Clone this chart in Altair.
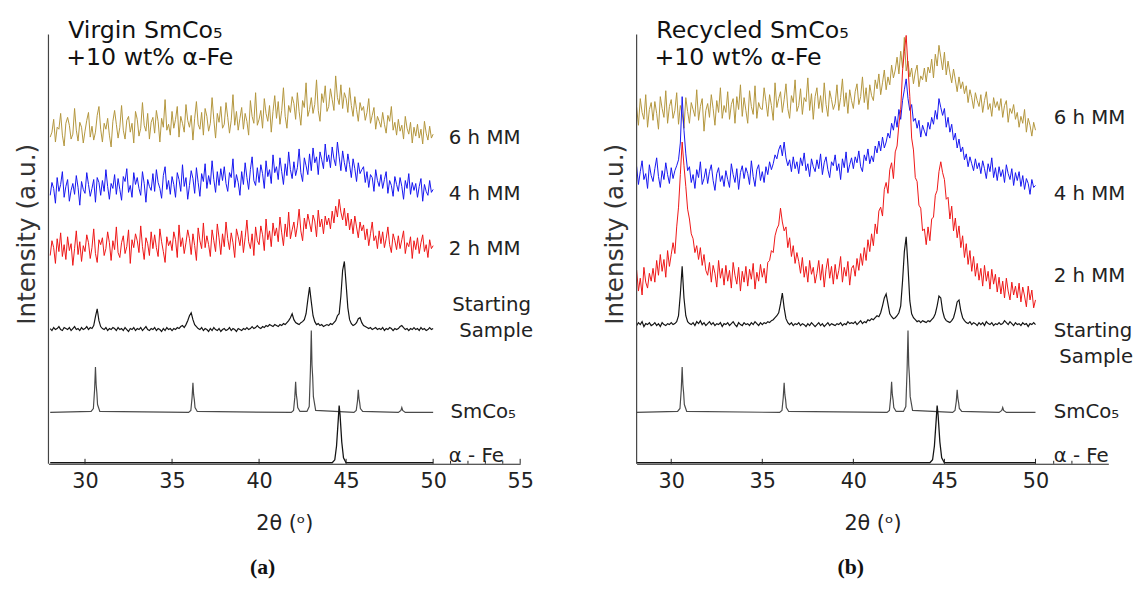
import altair as alt
import pandas as pd
import numpy as np

# ---------------- sampling grid of the noisy patterns (2theta, degrees) -------------
X_START, X_STEP = 28.0, 0.1

# ---------------- panel (a): Virgin SmCo5 + 10 wt% a-Fe ----------------------------
a_6h = [
    331, 336, 349, 326, 341, 339, 355, 333, 322, 345,
    351, 343, 329, 334, 360, 338, 327, 346, 341, 325,
    337, 348, 356, 331, 342, 328, 336, 353, 362, 339,
    326, 345, 339, 350, 333, 321, 347, 358, 344, 330,
    341, 363, 338, 329, 348, 352, 336, 345, 325, 357,
    349, 332, 340, 366, 343, 337, 355, 329, 346, 351,
    335, 358, 347, 326, 350, 341, 369, 338, 344, 333,
    357, 340, 349, 362, 331, 352, 345, 336, 364, 348,
    341, 353, 328, 350, 367, 344, 339, 356, 333, 360,
    352, 337, 345, 371, 349, 330, 355, 346, 362, 340,
    344, 366, 351, 335, 348, 374, 343, 357, 338, 350,
    361, 339, 355, 347, 333, 368, 352, 345, 376, 343,
    349, 358, 340, 370, 355, 347, 363, 336, 357, 373,
    350, 367, 344, 358, 381, 352, 340, 363, 356, 372,
    365, 349, 376, 357, 343, 368, 361, 386, 352, 359,
    371, 355, 364, 389, 358, 347, 375, 366, 383, 357,
    362, 380, 369, 358, 393, 371, 364, 384, 360, 376,
    370, 356, 381, 363, 352, 372, 359, 347, 366, 358,
    362, 348, 356, 370, 345, 353, 361, 339, 352, 347,
    341, 356, 344, 335, 353, 347, 362, 338, 346, 333,
    349, 337, 343, 329, 352, 340, 334, 346, 325, 341,
    332, 344, 330, 339, 324, 347, 335, 328, 342, 330,
    334,
]
a_4h = [
    272, 285, 279, 264, 290, 276, 283, 296, 270, 281,
    288, 266, 277, 284, 273, 292, 280, 262, 286, 278,
    274, 295, 283, 271, 279, 288, 265, 290, 285, 272,
    287, 276, 298, 281, 268, 284, 279, 293, 273, 289,
    278, 267, 291, 286, 299, 275, 282, 270, 295, 283,
    290, 279, 272, 296, 284, 265, 288, 281, 277, 294,
    276, 298, 285, 279, 269, 292, 301, 278, 287, 273,
    291, 283, 270, 295, 288, 276, 303, 281, 290, 268,
    282, 297, 289, 274, 300, 285, 271, 294, 286, 304,
    279, 292, 283, 307, 288, 275, 296, 282, 299, 287,
    301, 284, 276, 295, 290, 309, 280, 293, 285, 272,
    296, 283, 305, 290, 278, 298, 311, 287, 282, 300,
    285, 303, 294, 279, 307, 291, 298, 284, 313, 295,
    301, 288, 310, 296, 283, 304, 292, 316, 298, 289,
    306, 292, 300, 319, 295, 286, 310, 302, 293, 314,
    297, 320, 305, 311, 293, 316, 308, 299, 324, 306,
    313, 300, 321, 309, 302, 326, 311, 297, 317, 305,
    296, 314, 303, 290, 309, 299, 286, 305, 294, 298,
    301, 285, 296, 280, 293, 290, 276, 298, 287, 281,
    293, 279, 288, 296, 274, 287, 282, 271, 291, 283,
    276, 290, 281, 268, 287, 279, 294, 273, 285, 277,
    284, 270, 281, 289, 266, 283, 276, 272, 287, 275,
    278,
]
a_2h = [
    211, 226, 219, 203, 228, 215, 234, 210, 222, 207,
    230, 216, 223, 201, 218, 236, 212, 225, 205, 221,
    215, 232, 224, 208, 219, 238, 213, 204, 227, 222,
    229, 211, 218, 235, 224, 206, 226, 217, 240, 214,
    209, 224, 231, 213, 220, 237, 203, 227, 219, 233,
    226, 214, 241, 220, 207, 229, 223, 211, 235, 218,
    232, 219, 210, 238, 225, 215, 204, 230, 221, 226,
    216, 235, 227, 209, 242, 220, 229, 213, 224, 237,
    228, 212, 233, 221, 206, 239, 226, 218, 244, 219,
    231, 222, 210, 237, 226, 215, 243, 229, 212, 233,
    220, 245, 228, 217, 234, 224, 209, 238, 230, 221,
    236, 214, 229, 247, 225, 218, 233, 211, 240, 226,
    222, 241, 232, 216, 248, 227, 236, 220, 244, 231,
    239, 225, 250, 234, 221, 243, 230, 255, 228, 237,
    245, 230, 241, 258, 236, 226, 249, 238, 253, 244,
    235, 252, 246, 230, 257, 240, 248, 233, 251, 242,
    249, 238, 256, 244, 261, 250, 268, 255, 247, 259,
    241, 254, 237, 248, 233, 251, 240, 229, 245, 236,
    242, 227, 238, 221, 233, 245, 226, 231, 218, 236,
    223, 235, 219, 228, 240, 222, 214, 233, 226, 217,
    231, 218, 227, 236, 213, 224, 220, 230, 208, 226,
    217, 229, 213, 224, 232, 215, 222, 209, 227, 218,
    221,
]
a_start = [
    137, 135, 138, 136, 137, 139, 136, 135, 138, 137,
    136, 138, 135, 137, 139, 136, 137, 135, 138, 136,
    137, 139, 136, 138, 137, 140, 149, 157, 145, 139,
    137, 136, 138, 135, 137, 136, 138, 137, 135, 138,
    136, 137, 135, 138, 136, 134, 137, 136, 138, 135,
    137, 136, 138, 135, 137, 139, 136, 135, 137, 136,
    138, 135, 137, 136, 134, 137, 135, 138, 136, 137,
    135, 137, 136, 138, 137, 139, 140, 138, 141, 145,
    150, 153, 146, 141, 139, 137, 136, 138, 135, 137,
    136, 134, 137, 135, 138, 136, 135, 137, 134, 136,
    137, 135, 136, 138, 135, 137, 136, 134, 137, 136,
    135, 137, 136, 138, 136, 137, 139, 137, 138, 140,
    138, 137, 139, 138, 140, 139, 141, 140, 139, 141,
    140, 139, 141, 140, 142, 141, 143, 145, 148, 152,
    146, 143, 142, 141, 143, 144, 146, 152, 166, 179,
    164, 150, 144, 141, 142, 140, 141, 139, 140, 141,
    140, 142, 141, 143, 145, 150, 152, 170, 196, 205,
    182, 158, 146, 142, 140, 141, 143, 147, 148, 143,
    140, 139, 138, 137, 138, 136, 137, 138, 136, 137,
    136, 138, 135, 137, 136, 138, 137, 135, 137, 136,
    137, 139, 140, 138, 136, 137, 135, 137, 136, 138,
    136, 137, 135, 138, 136, 137, 135, 136, 138, 136,
    137,
]

# ---------------- panel (b): Recycled SmCo5 + 10 wt% a-Fe ---------------------------
b_6h = [
    352, 361, 343, 370, 356, 349, 374, 341, 359, 366,
    348, 367, 355, 339, 372, 360, 351, 378, 345, 362,
    369, 350, 358, 376, 344, 363, 355, 340, 371, 357,
    345, 366, 359, 352, 379, 348, 362, 370, 337, 358,
    365, 351, 374, 360, 343, 368, 356, 381, 350, 363,
    356, 377, 349, 364, 370, 345, 372, 359, 384, 352,
    371, 358, 345, 378, 362, 354, 383, 350, 366, 360,
    359, 381, 367, 352, 374, 363, 348, 386, 361, 370,
    377, 356, 369, 385, 360, 350, 373, 366, 389, 357,
    363, 380, 354, 371, 367, 391, 358, 375, 349, 372,
    381, 360, 373, 356, 386, 364, 352, 378, 369, 359,
    365, 384, 358, 371, 390, 362, 376, 355, 379, 368,
    360, 377, 385, 364, 372, 392, 366, 381, 359, 384,
    373, 368, 389, 380, 395, 374, 386, 399, 379, 392,
    384, 404, 391, 399, 412, 395, 418, 401, 432, 398,
    408, 392, 401, 385, 397, 404, 382, 393, 389, 401,
    387, 402, 396, 410, 391, 415, 403, 424, 412, 399,
    417, 394, 408, 396, 386, 400, 389, 377, 392, 380,
    387, 375, 383, 366, 379, 371, 360, 376, 368, 362,
    374, 356, 368, 377, 359, 365, 352, 371, 361, 367,
    358, 370, 351, 363, 368, 346, 360, 355, 364, 349,
    356, 341, 352, 345, 359, 336, 350, 343, 332, 346,
    338,
]
b_4h = [
    290, 301, 283, 296, 307, 288, 294, 279, 303, 292,
    286, 299, 310, 291, 280, 297, 288, 305, 293, 284,
    300, 289, 297, 302, 308, 325, 372, 338, 314, 297,
    301, 285, 293, 279, 298, 290, 306, 283, 289, 299,
    284, 296, 303, 287, 277, 294, 300, 286, 292, 281,
    297, 288, 280, 304, 293, 285, 299, 278, 295, 302,
    289, 300, 294, 283, 307, 291, 281, 298, 303, 287,
    296, 285, 301, 293, 306, 298, 304, 313, 309, 318,
    323, 312, 326, 310, 302, 308, 296, 311, 299, 306,
    294, 310, 302, 315, 297, 304, 291, 309, 301, 296,
    308, 299, 314, 293, 305, 311, 298, 290, 306, 302,
    313, 297, 304, 288, 309, 300, 316, 295, 303, 310,
    299, 311, 305, 317, 301, 296, 313, 307, 319, 304,
    312, 306, 322, 315, 327, 317, 331, 320, 326, 335,
    330, 345, 338, 352, 341, 359, 349, 368, 379, 390,
    370, 358, 364, 347, 350, 340, 348, 331, 343, 337,
    332, 346, 339, 351, 344, 358, 349, 370, 361, 353,
    360, 341, 351, 336, 344, 328, 335, 320, 329, 316,
    321, 308, 314, 301, 311, 304, 297, 309, 299, 305,
    294, 307, 299, 289, 304, 296, 310, 290, 300, 287,
    301, 291, 298, 285, 303, 294, 288, 299, 282, 295,
    287, 296, 281, 292, 278, 289, 284, 273, 288, 280,
    282,
]
b_2h = [
    182, 196, 175, 188, 171, 199, 184, 178, 193, 185,
    198, 184, 206, 191, 212, 195, 207, 189, 216, 200,
    212, 224, 213, 240, 260, 293, 326, 302, 281, 258,
    248, 233, 228, 214, 221, 207, 219, 201, 212, 196,
    191, 204, 184, 201, 193, 179, 206, 188, 198, 181,
    201, 185, 196, 178, 204, 191, 182, 199, 175, 195,
    184, 200, 180, 197, 187, 203, 177, 194, 185, 202,
    189, 198, 183, 204, 206, 216, 214, 231, 238, 242,
    259, 245, 236, 240, 219, 229, 210, 221, 203, 214,
    205, 193, 209, 189, 200, 184, 206, 192, 199, 183,
    193, 206, 186, 202, 179, 197, 208, 188, 200, 182,
    202, 187, 196, 210, 184, 199, 190, 205, 181, 198,
    201, 190, 208, 196, 213, 201, 219, 206, 227, 215,
    233, 221, 243, 233, 256, 260, 251, 278, 285, 274,
    298, 305, 289, 316, 322, 344, 359, 398, 418, 434,
    402, 372, 330, 318, 290, 286, 262, 259, 236, 238,
    222, 240, 226, 248, 250, 272, 277, 296, 306, 295,
    288, 268, 270, 248, 261, 236, 249, 229, 241, 219,
    231, 209, 223, 202, 216, 195, 210, 190, 203, 186,
    198, 180, 201, 185, 195, 177, 197, 182, 192, 174,
    189, 172, 185, 168, 188, 175, 166, 184, 171, 180,
    168, 183, 164, 179, 170, 159, 180, 166, 176, 158,
    166,
]
b_start = [
    142, 140, 143, 141, 144, 139, 142, 141, 143, 140,
    141, 143, 140, 142, 139, 143, 141, 140, 142, 141,
    143, 141, 142, 144, 150, 172, 200, 168, 150, 144,
    142, 141, 143, 140, 144, 142, 145, 141, 143, 140,
    142, 144, 141, 143, 140, 142, 141, 143, 139, 142,
    141, 143, 140, 142, 144, 141, 139, 143, 141, 140,
    143, 141, 142, 140, 143, 141, 144, 142, 140, 143,
    141, 143, 142, 144, 143, 145, 146, 148, 150, 153,
    162, 173, 158, 147, 143, 141, 143, 140, 142, 141,
    143, 140, 142, 141, 139, 142, 140, 143, 141, 139,
    141, 143, 140, 142, 139, 141, 143, 140, 142, 141,
    140, 142, 141, 143, 140, 142, 141, 144, 142, 143,
    142, 144, 141, 143, 145, 142, 144, 143, 146, 145,
    147, 146, 148, 150, 149, 153, 160, 168, 172, 162,
    152, 149, 147, 148, 150, 153, 160, 185, 215, 230,
    200, 165, 152, 148, 146, 144, 145, 143, 145, 144,
    143, 145, 144, 146, 148, 152, 160, 170, 168, 155,
    148, 145, 144, 143, 145, 148, 155, 164, 166, 155,
    148, 145, 143, 142, 144, 141, 143, 142, 140, 143,
    141, 143, 140, 144, 142, 141, 143, 140, 142, 141,
    143, 141, 142, 145, 143, 141, 144, 142, 140, 143,
    141, 142, 140, 143, 141, 142, 139, 142, 141, 143,
    141,
]

# ---------------- reference patterns (same in both panels) -------------------------
smco5_x = [28.0, 30.35, 30.48, 30.55, 30.6, 30.64, 30.68, 30.72, 30.85,
           35.95, 36.08, 36.15, 36.2, 36.24, 36.28, 36.32, 36.45,
           41.85, 41.98, 42.05, 42.1, 42.14, 42.18, 42.22, 42.35,
           42.75, 42.88, 42.95, 43.0, 43.04, 43.08, 43.12, 43.25,
           45.45, 45.58, 45.65, 45.7, 45.74, 45.78, 45.82, 45.95,
           48.0, 48.15, 48.2, 48.25, 48.4, 50.0]
smco5_y = [52, 53, 56, 75, 98, 80, 72, 60, 53,
           52, 54, 67, 82, 70, 65, 57, 53,
           52, 54, 67, 83, 70, 65, 57, 53,
           53, 58, 95, 135, 100, 88, 68, 54,
           52, 54, 63, 75, 66, 62, 56, 53,
           52, 54, 57, 54, 52, 52]
fe_x = [28.0, 44.2, 44.35, 44.45, 44.55, 44.6, 44.65, 44.75, 44.85, 45.0, 50.0]
fe_y = [1, 1, 4, 18, 45, 59, 50, 22, 6, 1, 1]

# ---------------- labels -----------------------------------------------------------
trace_labels = ["6 h MM", "4 h MM", "2 h MM", "Starting", "Sample", "SmCo₅", "α - Fe"]
a_label_x = [50.9, 50.9, 50.9, 51.1, 51.5, 51.0, 50.9]
a_label_y = [330, 273, 218, 161, 134, 52, 8]
b_label_x = [51.0, 51.0, 51.0, 51.0, 51.3, 51.0, 51.0]
b_label_y = [350, 273, 190, 134, 108, 52, 8]

A_DOMAIN = [27.9, 55.0]
B_DOMAIN = [28.1, 54.0]
A_TICKS = [30, 35, 40, 45, 50, 55]
B_TICKS = [30, 35, 40, 45, 50]
A_MINOR = [51, 52, 53, 54]
B_MINOR = [51, 52, 53]

W, H = 478, 453
YMAX = 453
AXIS_TOP = 435
FONT = "DejaVu Sans"
GOLD, BLUE, RED, BLACK, GREY = "#b3953c", "#1414f0", "#ee1414", "#141414", "#4a4a4a"


def grid_df(values):
    xs = np.round(X_START + X_STEP * np.arange(len(values)), 2)
    return pd.DataFrame({"x": xs, "y": values})


def panel(domain, ticks, minor, traces, lab_x, lab_y, title1, title2, letter):
    xs = alt.Scale(domain=domain, nice=False, zero=False)
    ys = alt.Scale(domain=[0, YMAX], nice=False, zero=False)
    xaxis = alt.Axis(values=ticks, title="2θ (ᵒ)", titleFont=FONT, titleFontSize=21,
                     titleFontWeight="normal", titleColor="#222", titlePadding=22,
                     labelFont=FONT, labelFontSize=21, labelColor="#222", labelPadding=7,
                     labelFlush=False, labelOverlap=False, ticks=False, grid=False,
                     domainColor="#222", domainWidth=1.2)
    yaxis = alt.Axis(title="Intensity (a.u.)", domain=False, ticks=False, labels=False,
                     grid=False, titleFont=FONT, titleFontSize=25, titleFontWeight="normal",
                     titleColor="#333", titleX=-9, titleY=220, titleAngle=270,
                     titleAlign="center", titleBaseline="bottom")
    X = alt.X("x:Q", scale=xs, axis=xaxis)
    Y = alt.Y("y:Q", scale=ys, axis=yaxis)
    layers = []
    for df, color, sw in traces:
        layers.append(alt.Chart(df).mark_line(color=color, strokeWidth=sw, clip=True)
                      .encode(x=X, y=Y))
    one = pd.DataFrame({"k": [0]})
    layers.append(alt.Chart(one).mark_rule(color="#444", strokeWidth=1.2)
                  .encode(x=alt.value(0), y=alt.value(H - AXIS_TOP), y2=alt.value(H)))
    layers.append(alt.Chart(pd.DataFrame({"x": ticks})).mark_rule(color="#222", strokeWidth=1)
                  .encode(x=X, y=alt.value(H), y2=alt.value(H - 5)))
    layers.append(alt.Chart(pd.DataFrame({"x": minor})).mark_rule(color="#222", strokeWidth=1)
                  .encode(x=X, y=alt.value(H), y2=alt.value(H - 3)))
    lab = pd.DataFrame({"x": lab_x, "y": lab_y, "t": trace_labels})
    layers.append(alt.Chart(lab).mark_text(align="left", baseline="middle", font=FONT,
                                           fontSize=20, color="#222")
                  .encode(x=X, y=Y, text="t:N"))
    layers.append(alt.Chart(pd.DataFrame({"t": [title1]})).mark_text(
        align="left", baseline="alphabetic", font=FONT, fontSize=24, color="#111")
        .encode(x=alt.value(20), y=alt.value(22), text="t:N"))
    layers.append(alt.Chart(pd.DataFrame({"t": [title2]})).mark_text(
        align="left", baseline="alphabetic", font=FONT, fontSize=24, color="#111")
        .encode(x=alt.value(18), y=alt.value(49), text="t:N"))
    layers.append(alt.Chart(pd.DataFrame({"t": [letter]})).mark_text(
        align="center", baseline="alphabetic", font="Liberation Serif", fontSize=22,
        fontWeight="bold", color="#111")
        .encode(x=alt.value(217), y=alt.value(565), text="t:N"))
    return alt.layer(*layers).properties(width=W, height=H)


fe_df = pd.DataFrame({"x": fe_x, "y": fe_y})
sm_df = pd.DataFrame({"x": smco5_x, "y": smco5_y})

pa = panel(A_DOMAIN, A_TICKS, A_MINOR,
           [(grid_df(a_6h), GOLD, 1), (grid_df(a_4h), BLUE, 1), (grid_df(a_2h), RED, 1),
            (grid_df(a_start), BLACK, 1.2), (sm_df, GREY, 1.2), (fe_df, BLACK, 1.3)],
           a_label_x, a_label_y, "Virgin SmCo₅", "+10 wt% α-Fe", "(a)")
pb = panel(B_DOMAIN, B_TICKS, B_MINOR,
           [(grid_df(b_6h), GOLD, 1), (grid_df(b_4h), BLUE, 1), (grid_df(b_2h), RED, 1),
            (grid_df(b_start), BLACK, 1.2), (sm_df, GREY, 1.2), (fe_df, BLACK, 1.3)],
           b_label_x, b_label_y, "Recycled SmCo₅", "+10 wt% α-Fe", "(b)")

chart = alt.hconcat(pa, pb, spacing=118, bounds="flush").properties(
    padding={"left": 6, "top": 5, "right": 0, "bottom": 0}, background="white"
).configure_view(stroke=None)

chart.save("out.html", embed_options={"renderer": "svg", "actions": False})
